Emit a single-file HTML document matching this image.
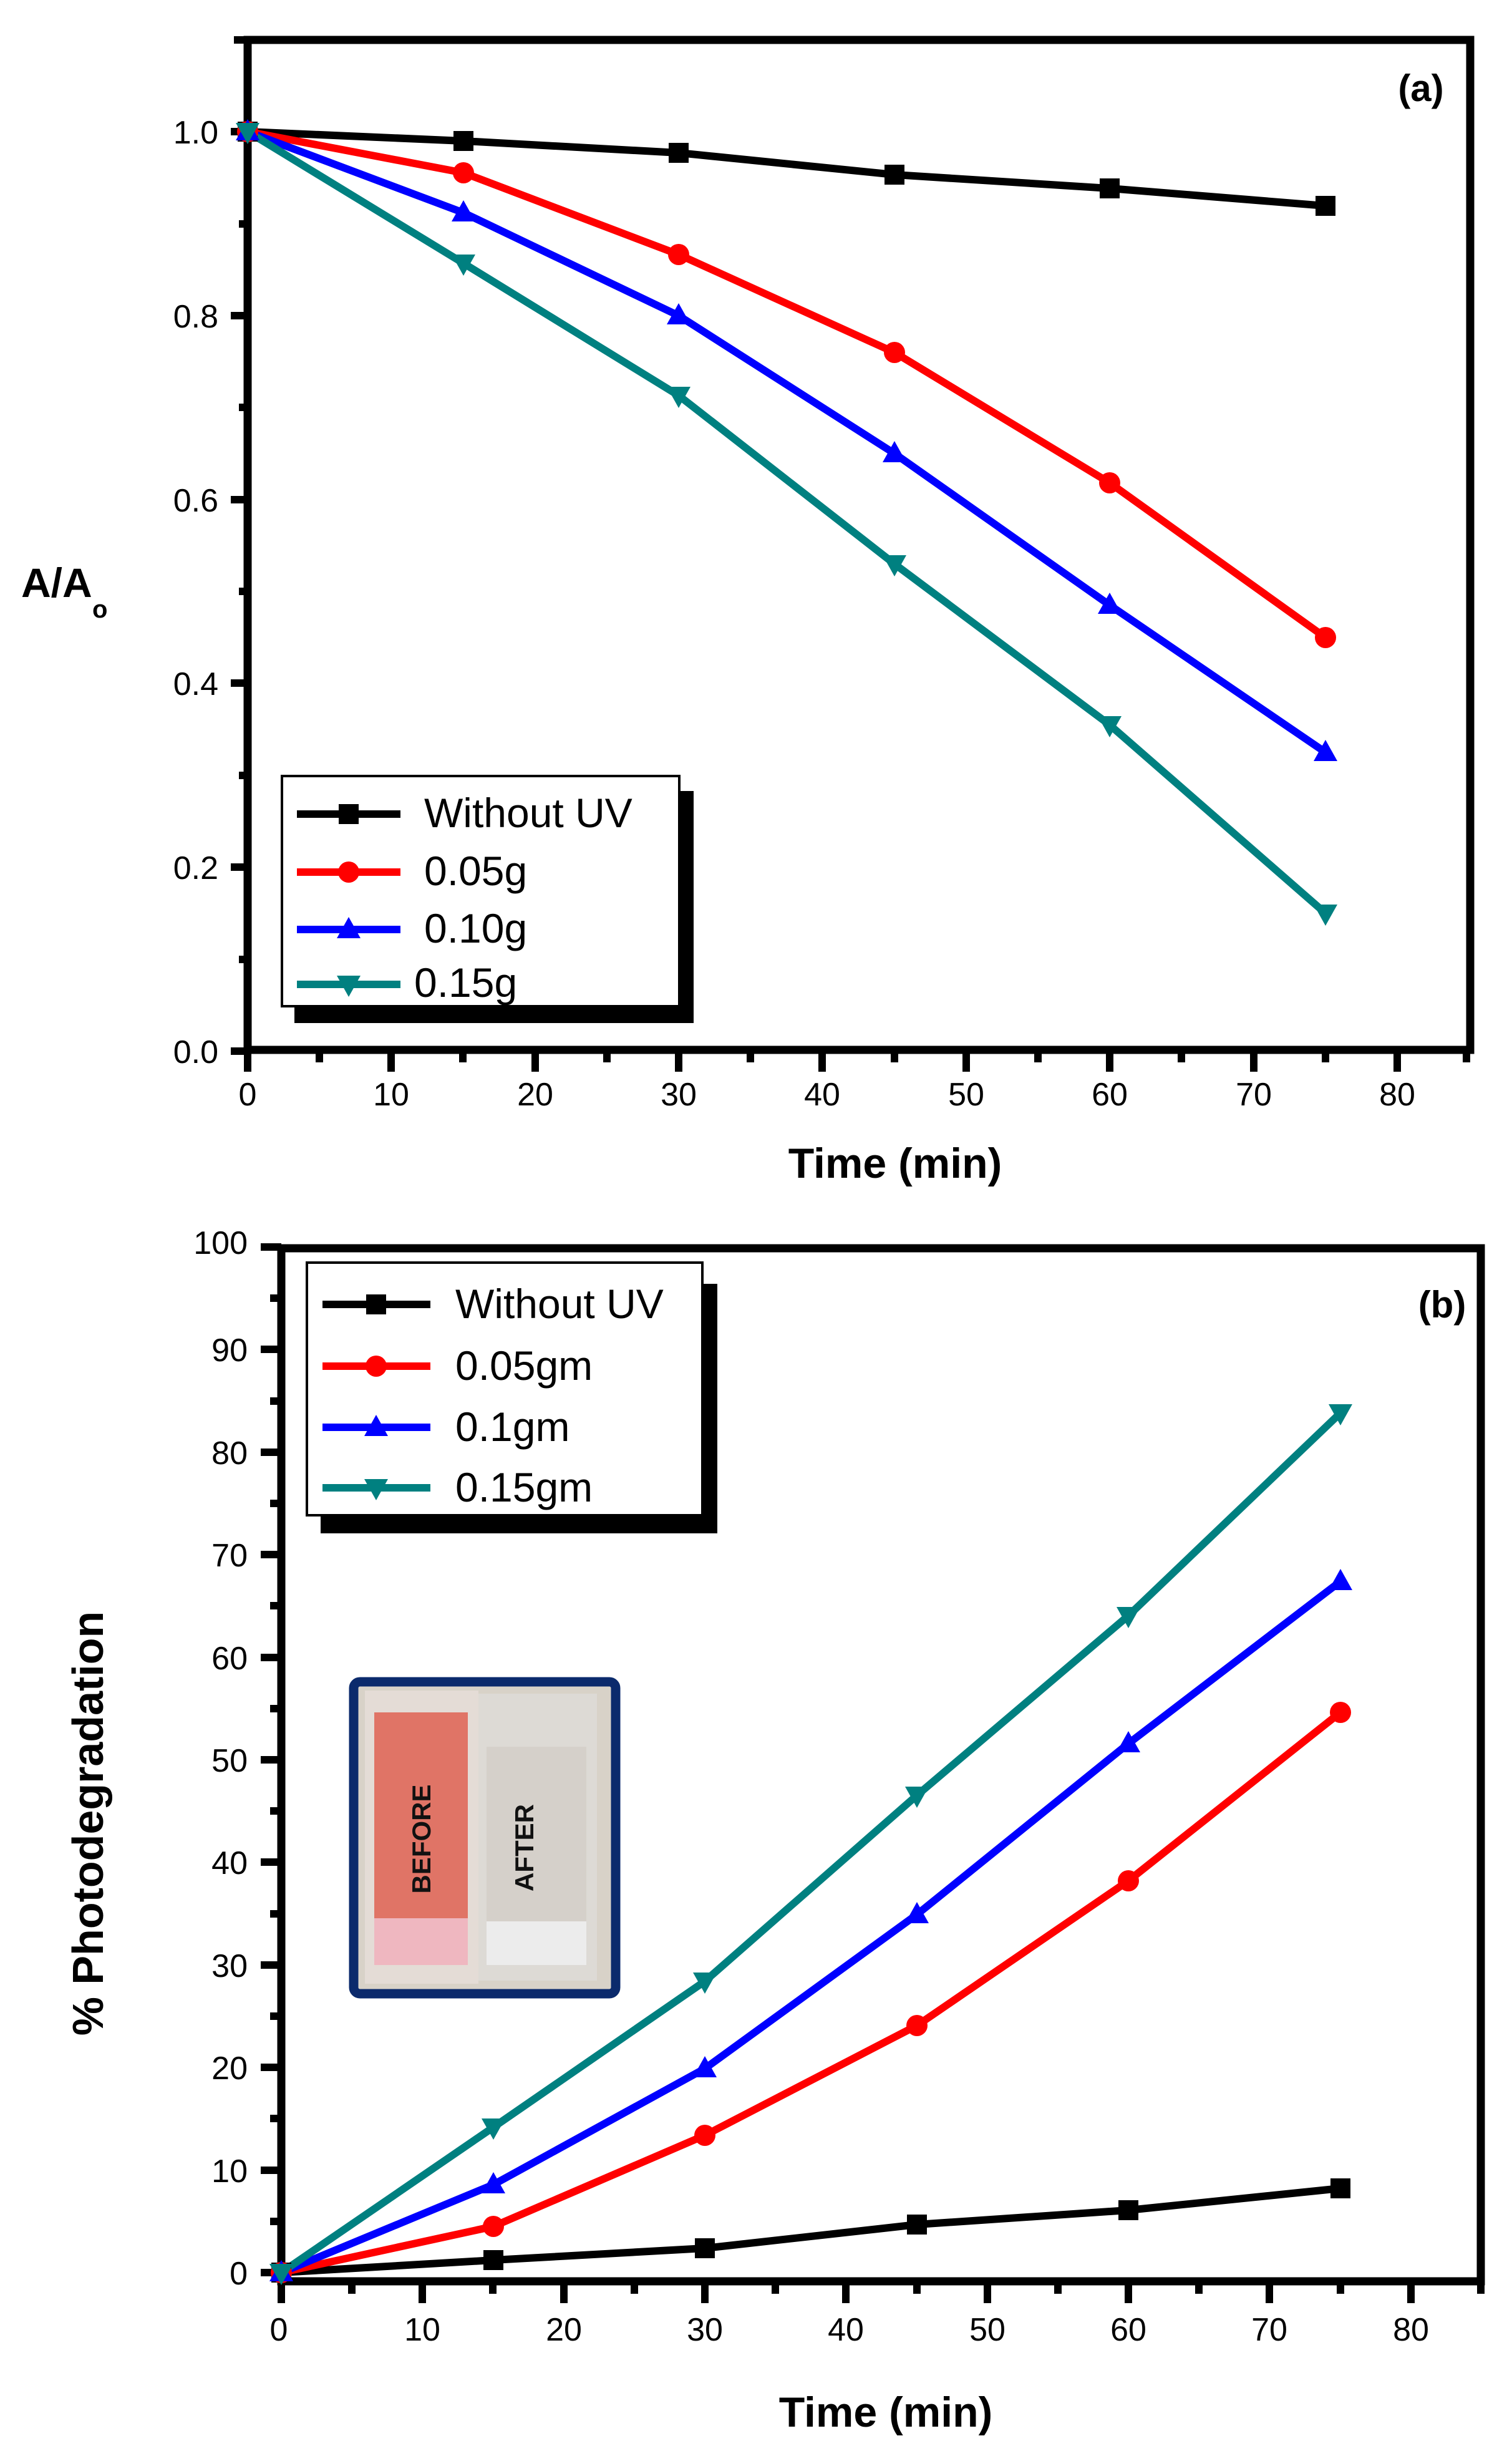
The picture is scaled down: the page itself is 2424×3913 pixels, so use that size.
<!DOCTYPE html>
<html><head><meta charset="utf-8"><style>
html,body{margin:0;padding:0;background:#fff;}
svg{display:block;}
text{font-family:"Liberation Sans",Arial,sans-serif;}
</style></head><body>
<svg width="2424" height="3913" viewBox="0 0 2424 3913" xmlns="http://www.w3.org/2000/svg">
<defs>
<g id="sq"><rect x="-16" y="-16" width="32" height="32"/></g>
<g id="ci"><circle r="17"/></g>
<g id="tu"><polygon points="0,-20 19,14 -19,14"/></g>
<g id="td"><polygon points="0,20 19,-14 -19,-14"/></g>
</defs>

<!-- ================= PANEL A ================= -->
<g stroke="#000" stroke-width="13" fill="none">
<rect x="397" y="64" width="1960" height="1619"/>
</g>
<g stroke="#000" stroke-width="12">
<path d="M397 1683v35M627 1683v35M858 1683v35M1088 1683v35M1318 1683v35M1549 1683v35M1779 1683v35M2010 1683v35M2240 1683v35"/>
<path d="M512 1683v20M742 1683v20M973 1683v20M1203 1683v20M1434 1683v20M1664 1683v20M1894 1683v20M2125 1683v20M2351 1683v20"/>
<path d="M397 1685h-27M397 1390h-27M397 1095h-27M397 801h-27M397 506h-27M397 211h-27"/>
<path d="M397 1538h-14M397 1243h-14M397 948h-14M397 653h-14M397 359h-14M397 64h-22"/>
</g>
<g font-size="52" fill="#000" text-anchor="middle">
<text x="397" y="1772">0</text><text x="627" y="1772">10</text><text x="858" y="1772">20</text>
<text x="1088" y="1772">30</text><text x="1318" y="1772">40</text><text x="1549" y="1772">50</text>
<text x="1779" y="1772">60</text><text x="2010" y="1772">70</text><text x="2240" y="1772">80</text>
</g>
<g font-size="52" fill="#000" text-anchor="end">
<text x="350" y="1704">0.0</text><text x="350" y="1409">0.2</text><text x="350" y="1114">0.4</text>
<text x="350" y="820">0.6</text><text x="350" y="525">0.8</text><text x="350" y="230">1.0</text>
</g>
<text x="1435" y="1888" font-size="68" font-weight="bold" text-anchor="middle">Time (min)</text>
<text x="34" y="957" font-size="66" font-weight="bold">A/A</text>
<text x="148" y="990" font-size="40" font-weight="bold">o</text>
<text x="2278" y="162" font-size="60" font-weight="bold" text-anchor="middle">(a)</text>

<g fill="none" stroke-width="12" stroke-linejoin="round">
<polyline stroke="#000" points="397,211 743,226 1088,245 1434,280 1779,302 2125,330"/>
<polyline stroke="#ff0000" points="397,211 743,277 1088,408 1434,565 1779,774 2125,1022"/>
<polyline stroke="#0000ff" points="397,211 743,341 1088,506 1434,727 1779,970 2125,1206"/>
<polyline stroke="#008080" points="397,211 743,422 1088,634 1434,904 1779,1162 2125,1464"/>
</g>
<g fill="#000"><use href="#sq" x="397" y="211"/><use href="#sq" x="743" y="226"/><use href="#sq" x="1088" y="245"/><use href="#sq" x="1434" y="280"/><use href="#sq" x="1779" y="302"/><use href="#sq" x="2125" y="330"/></g>
<g fill="#ff0000"><use href="#ci" x="397" y="211"/><use href="#ci" x="743" y="277"/><use href="#ci" x="1088" y="408"/><use href="#ci" x="1434" y="565"/><use href="#ci" x="1779" y="774"/><use href="#ci" x="2125" y="1022"/></g>
<g fill="#0000ff"><use href="#tu" x="397" y="211"/><use href="#tu" x="743" y="341"/><use href="#tu" x="1088" y="506"/><use href="#tu" x="1434" y="727"/><use href="#tu" x="1779" y="970"/><use href="#tu" x="2125" y="1206"/></g>
<g fill="#008080"><use href="#td" x="397" y="211"/><use href="#td" x="743" y="422"/><use href="#td" x="1088" y="634"/><use href="#td" x="1434" y="904"/><use href="#td" x="1779" y="1162"/><use href="#td" x="2125" y="1464"/></g>

<!-- legend a -->
<rect x="472" y="1268" width="640" height="372" fill="#000"/>
<rect x="452" y="1244" width="637" height="369" fill="#fff" stroke="#000" stroke-width="4"/>
<g stroke-width="12">
<line x1="476" y1="1305" x2="642" y2="1305" stroke="#000"/>
<line x1="476" y1="1398" x2="642" y2="1398" stroke="#ff0000"/>
<line x1="476" y1="1490" x2="642" y2="1490" stroke="#0000ff"/>
<line x1="476" y1="1578" x2="642" y2="1578" stroke="#008080"/>
</g>
<use href="#sq" x="559" y="1305" fill="#000"/>
<use href="#ci" x="559" y="1398" fill="#ff0000"/>
<use href="#tu" x="559" y="1490" fill="#0000ff"/>
<use href="#td" x="559" y="1578" fill="#008080"/>
<g font-size="66" fill="#000">
<text x="680" y="1326">Without UV</text>
<text x="680" y="1419">0.05g</text>
<text x="680" y="1511">0.10g</text>
<text x="664" y="1598">0.15g</text>
</g>

<!-- ================= PANEL B ================= -->
<g stroke="#000" stroke-width="13" fill="none">
<rect x="451" y="2001" width="1923" height="1656"/>
</g>
<g stroke="#000" stroke-width="12">
<path d="M451 3657v35M677 3657v35M904 3657v35M1130 3657v35M1356 3657v35M1583 3657v35M1809 3657v35M2035 3657v35M2262 3657v35M2374 3657v20"/>
<path d="M564 3657v20M790 3657v20M1017 3657v20M1243 3657v20M1470 3657v20M1696 3657v20M1922 3657v20M2149 3657v20"/>
<path d="M451 3643h-33M451 3479h-33M451 3314h-33M451 3150h-33M451 2985h-33M451 2821h-33M451 2657h-33M451 2492h-33M451 2328h-33M451 2163h-33M451 1999h-33"/>
<path d="M451 3561h-18M451 3396h-18M451 3232h-18M451 3068h-18M451 2903h-18M451 2739h-18M451 2574h-18M451 2410h-18M451 2246h-18M451 2081h-18"/>
</g>
<g font-size="52" fill="#000" text-anchor="middle">
<text x="447" y="3752">0</text><text x="677" y="3752">10</text><text x="904" y="3752">20</text>
<text x="1130" y="3752">30</text><text x="1356" y="3752">40</text><text x="1583" y="3752">50</text>
<text x="1809" y="3752">60</text><text x="2035" y="3752">70</text><text x="2262" y="3752">80</text>
</g>
<g font-size="52" fill="#000" text-anchor="end">
<text x="397" y="3662">0</text><text x="397" y="3498">10</text><text x="397" y="3333">20</text>
<text x="397" y="3169">30</text><text x="397" y="3004">40</text><text x="397" y="2840">50</text>
<text x="397" y="2676">60</text><text x="397" y="2511">70</text><text x="397" y="2347">80</text>
<text x="397" y="2182">90</text><text x="397" y="2010">100</text>
</g>
<text x="1420" y="3890" font-size="68" font-weight="bold" text-anchor="middle">Time (min)</text>
<text transform="translate(165,2923) rotate(-90)" font-size="70" font-weight="bold" text-anchor="middle">% Photodegradation</text>
<text x="2312" y="2112" font-size="60" font-weight="bold" text-anchor="middle">(b)</text>

<!-- inset photo -->
<rect x="567" y="2696" width="420" height="500" rx="10" fill="#d8d2c8" stroke="#0b2a6c" stroke-width="15"/>
<rect x="585" y="2710" width="182" height="470" fill="#e4dcd6"/>
<rect x="600" y="2745" width="150" height="330" fill="#e07466"/>
<rect x="600" y="3075" width="150" height="75" fill="#efb7c0"/>
<rect x="767" y="2715" width="190" height="460" fill="#dddad5"/>
<rect x="780" y="2800" width="160" height="280" fill="#d5d0ca"/>
<rect x="780" y="3080" width="160" height="70" fill="#ececec"/>
<text transform="translate(690,2948) rotate(-90)" font-size="42" font-weight="bold" text-anchor="middle" fill="#111">BEFORE</text>
<text transform="translate(855,2962) rotate(-90)" font-size="42" font-weight="bold" text-anchor="middle" fill="#111">AFTER</text>

<g fill="none" stroke-width="12" stroke-linejoin="round">
<polyline stroke="#000" points="451,3643 791,3623 1130,3604 1470,3566 1809,3543 2149,3508"/>
<polyline stroke="#ff0000" points="451,3643 791,3569 1130,3423 1470,3247 1809,3015 2149,2745"/>
<polyline stroke="#0000ff" points="451,3643 791,3502 1130,3316 1470,3069 1809,2795 2149,2535"/>
<polyline stroke="#008080" points="451,3643 791,3410 1130,3176 1470,2878 1809,2590 2149,2265"/>
</g>
<g fill="#000"><use href="#sq" x="451" y="3643"/><use href="#sq" x="791" y="3623"/><use href="#sq" x="1130" y="3604"/><use href="#sq" x="1470" y="3566"/><use href="#sq" x="1809" y="3543"/><use href="#sq" x="2149" y="3508"/></g>
<g fill="#ff0000"><use href="#ci" x="451" y="3643"/><use href="#ci" x="791" y="3569"/><use href="#ci" x="1130" y="3423"/><use href="#ci" x="1470" y="3247"/><use href="#ci" x="1809" y="3015"/><use href="#ci" x="2149" y="2745"/></g>
<g fill="#0000ff"><use href="#tu" x="451" y="3643"/><use href="#tu" x="791" y="3502"/><use href="#tu" x="1130" y="3316"/><use href="#tu" x="1470" y="3069"/><use href="#tu" x="1809" y="2795"/><use href="#tu" x="2149" y="2535"/></g>
<g fill="#008080"><use href="#td" x="451" y="3643"/><use href="#td" x="791" y="3410"/><use href="#td" x="1130" y="3176"/><use href="#td" x="1470" y="2878"/><use href="#td" x="1809" y="2590"/><use href="#td" x="2149" y="2265"/></g>

<!-- legend b -->
<rect x="514" y="2058" width="636" height="400" fill="#000"/>
<rect x="492" y="2024" width="634" height="405" fill="#fff" stroke="#000" stroke-width="4"/>
<g stroke-width="12">
<line x1="517" y1="2091" x2="690" y2="2091" stroke="#000"/>
<line x1="517" y1="2190" x2="690" y2="2190" stroke="#ff0000"/>
<line x1="517" y1="2288" x2="690" y2="2288" stroke="#0000ff"/>
<line x1="517" y1="2385" x2="690" y2="2385" stroke="#008080"/>
</g>
<use href="#sq" x="603" y="2091" fill="#000"/>
<use href="#ci" x="603" y="2190" fill="#ff0000"/>
<use href="#tu" x="603" y="2288" fill="#0000ff"/>
<use href="#td" x="603" y="2385" fill="#008080"/>
<g font-size="66" fill="#000">
<text x="730" y="2113">Without UV</text>
<text x="730" y="2212">0.05gm</text>
<text x="730" y="2310">0.1gm</text>
<text x="730" y="2407">0.15gm</text>
</g>
</svg>
</body></html>
